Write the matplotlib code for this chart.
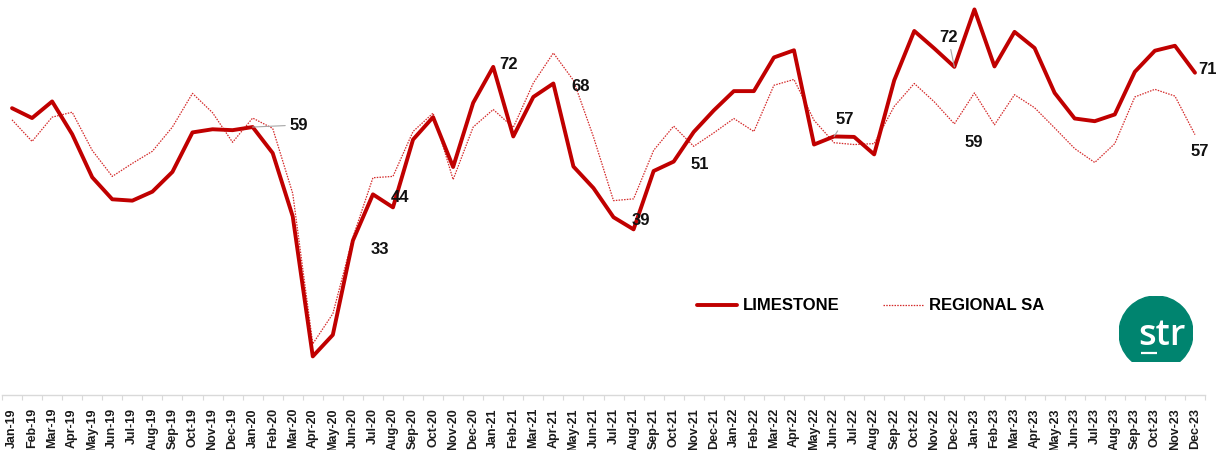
import numpy as np
import pandas as pd
import matplotlib
matplotlib.use("Agg")
import matplotlib.pyplot as plt
from matplotlib.patches import Circle

# Monthly index values, Jan-2019 .. Dec-2023
months = pd.date_range("2019-01-01", periods=60, freq="MS").strftime("%b-%y").tolist()

limestone = [62.9, 60.7, 64.4, 57.1, 47.5, 42.6, 42.3, 44.3, 48.7, 57.5, 58.2, 58.0,
             58.7, 52.9, 38.8, 7.6, 12.4, 33.4, 43.7, 40.8, 55.9, 60.9, 49.8, 64.1,
             72.1, 56.6, 65.4, 68.4, 49.9, 45.1, 38.6, 35.9, 48.9, 51.0, 57.6, 62.4,
             66.7, 66.7, 74.2, 75.8, 54.8, 56.6, 56.5, 52.6, 69.1, 80.1, 76.2, 72.1,
             84.9, 72.2, 79.9, 76.3, 66.3, 60.6, 60.0, 61.5, 71.0, 75.7, 76.8, 70.8]
regional = [60.3, 55.5, 60.9, 62.0, 53.5, 47.7, 50.6, 53.3, 58.7, 66.2, 61.9, 55.3,
            60.7, 58.4, 43.9, 10.4, 17.1, 34.1, 47.4, 47.7, 57.7, 61.8, 47.0, 58.7,
            62.6, 58.6, 68.5, 75.2, 69.1, 56.5, 42.3, 42.7, 53.5, 58.9, 54.4, 57.4,
            60.6, 57.7, 68.0, 69.3, 60.2, 55.2, 54.8, 55.0, 63.3, 68.4, 64.3, 59.4,
            66.3, 59.2, 65.9, 63.0, 58.5, 53.9, 50.8, 55.0, 65.4, 67.1, 65.6, 57.0]

series_names = ["LIMESTONE", "REGIONAL SA"]
limestone_labelled = ["Jan-20", "Jun-20", "Jul-20", "Jan-21", "Apr-21", "Jul-21",
                      "Oct-21", "Jun-22", "Dec-22", "Dec-23"]
regional_labelled = ["Dec-22", "Dec-23"]

# label placement: (dx, dy) in pixels from the point to the label centre (dy down)
label_offsets = {
    ("L", "Jan-20"): (46, -4), ("L", "Jun-20"): (27, 7), ("L", "Jul-20"): (27, 1),
    ("L", "Jan-21"): (15, -4), ("L", "Apr-21"): (27, 1), ("L", "Jul-21"): (27, 1),
    ("L", "Oct-21"): (26, 1), ("L", "Jun-22"): (11, -19), ("L", "Dec-22"): (-6, -31),
    ("L", "Dec-23"): (13, -5), ("R", "Dec-22"): (19, 17), ("R", "Dec-23"): (5, 15),
}
leader_lines = {("L", "Jan-20"), ("L", "Jun-22"), ("L", "Dec-22")}

plt.rcParams["font.family"] = ["Liberation Sans", "DejaVu Sans"]

W, H = 1223, 450
fig = plt.figure(figsize=(W / 100, H / 100), dpi=100)
ax = fig.add_axes([2 / W, (H - 395) / H, (1205 - 2) / W, 395 / H])

RED = "#C00000"
x = np.arange(len(months))
l_line, = ax.plot(x, limestone, color=RED, lw=2.8, solid_joinstyle="round",
                  solid_capstyle="round", label=series_names[0], zorder=3)
r_line, = ax.plot(x, regional, color="#D42A2A", lw=0.9, linestyle=(0, (1.2, 1.0)),
                  label=series_names[1], zorder=2)

ax.set_xlim(-0.5, len(months) - 0.5)
ax.set_ylim(-1, 87)

for s in ("left", "right", "top"):
    ax.spines[s].set_visible(False)
ax.spines["bottom"].set_color("#D9D9D9")
ax.spines["bottom"].set_linewidth(1.0)
ax.set_yticks([])

ax.set_xticks(x)
ax.set_xticklabels(months, rotation=90, fontsize=9, fontweight="bold", color="#1a1a1a")
ax.tick_params(axis="x", which="major", length=0, pad=9.4)
ax.set_xticks(np.arange(-0.5, len(months), 1.0), minor=True)
ax.tick_params(axis="x", which="minor", length=3.6, width=0.8, color="#D9D9D9",
               direction="out")

k = 72 / 100  # pixels -> points


def add_label(series_key, values, month):
    i = months.index(month)
    v = values[i]
    dx, dy = label_offsets[(series_key, month)]
    kw = {}
    if (series_key, month) in leader_lines:
        kw["arrowprops"] = dict(arrowstyle="-", color="#A6A6A6", lw=0.8,
                                shrinkA=1, shrinkB=0)
    ax.annotate(f"{round(v)}", xy=(i, v), xytext=(dx * k, -(dy + 6.5) * k),
                textcoords="offset points", ha="center", va="baseline",
                fontsize=12, fontweight="bold", color="#111111", zorder=5, **kw)


for m in limestone_labelled:
    add_label("L", limestone, m)
for m in regional_labelled:
    add_label("R", regional, m)

ax.legend(handles=[l_line, r_line], ncol=2, frameon=False, loc="center left",
          bbox_to_anchor=(697 / W, 1 - 306 / H), bbox_transform=fig.transFigure,
          prop={"size": 12, "weight": "bold"}, handlelength=2.4, handletextpad=0.36,
          columnspacing=2.6, borderpad=0, borderaxespad=0)

# logo badge
lx0, ly0, lw_, lh_ = 1119, 296, 74, 66
lax = fig.add_axes([lx0 / W, (H - ly0 - lh_) / H, lw_ / W, lh_ / H])
lax.set_xlim(0, lw_)
lax.set_ylim(0, lh_)
lax.axis("off")
lax.add_patch(Circle((37, 29), 37, color="#00846F", clip_on=True))
lax.text(42.5, 17, "str", color="white", fontsize=26, family="Open Sans",
         fontweight="semibold", ha="center", va="baseline")
lax.plot([21.5, 38], [9.5, 9.5], color="white", lw=1.6, solid_capstyle="butt")

fig.savefig("out.png", dpi=100)
